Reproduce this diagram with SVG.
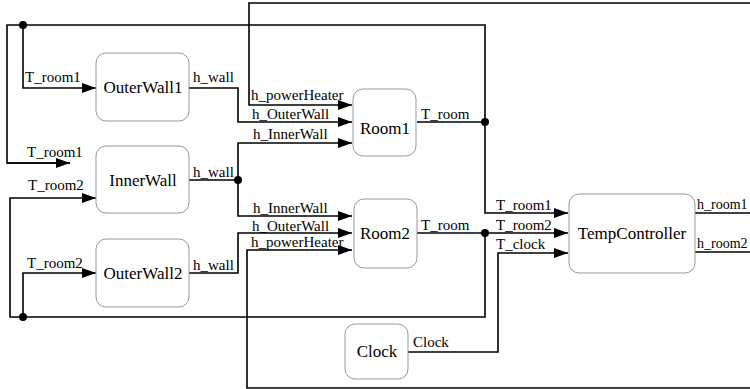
<svg xmlns="http://www.w3.org/2000/svg" width="750" height="389" viewBox="0 0 750 389">
<style>
.box{fill:#fff;stroke:#999;stroke-width:1}
.nl{font-family:"Liberation Serif",serif;font-size:17px;fill:#000;text-anchor:middle}
.pl{font-family:"Liberation Serif",serif;font-size:15px;fill:#000}
.c{fill:none;stroke:#000;stroke-width:1.6}
.a{marker-end:url(#arr)}
.d{fill:#000}
</style>
<defs>
<marker id="arr" markerUnits="userSpaceOnUse" markerWidth="16" markerHeight="12" refX="15" refY="5" orient="auto">
<path d="M1,0 L15,5 L1,10 Z" fill="#000"/>
</marker>
</defs>
<rect width="750" height="389" fill="#fff"/>
<g id="connectors">
<path class="c" d="M485,122 V25 H7 V163 H70"/>
<path class="c a" d="M7,163 H70"/>
<path class="c a" d="M23,25 V88 H96"/>
<path class="c" d="M417,122 H485"/>
<path class="c a" d="M485,122 V213 H568"/>
<path class="c" d="M417,233 H485"/>
<path class="c a" d="M485,233 H568"/>
<path class="c a" d="M485,233 V317 H10 V198 H96"/>
<path class="c a" d="M23,317 V273 H96"/>
<path class="c a" d="M189,88 H238 V122 H352"/>
<path class="c" d="M189,180 H238"/>
<path class="c a" d="M238,180 V143 H352"/>
<path class="c a" d="M238,180 V216 H352"/>
<path class="c a" d="M189,273 H238 V233 H352"/>
<path class="c" d="M695,213 H752"/>
<path class="c a" d="M752,3 H249 V105 H352"/>
<path class="c" d="M695,252 H752"/>
<path class="c a" d="M752,388 H247 V250 H352"/>
<path class="c a" d="M408,352 H498 V253 H568"/>
<circle class="d" cx="23" cy="25" r="4"/>
<circle class="d" cx="485" cy="122" r="4"/>
<circle class="d" cx="238" cy="180" r="4"/>
<circle class="d" cx="485" cy="233" r="4"/>
<circle class="d" cx="23" cy="317" r="4"/>
<text class="pl" x="25" y="82">T_room1</text>
<text class="pl" x="193" y="82">h_wall</text>
<text class="pl" x="251" y="100">h_powerHeater</text>
<text class="pl" x="252" y="119">h_OuterWall</text>
<text class="pl" x="253" y="139">h_InnerWall</text>
<text class="pl" x="421" y="119">T_room</text>
<text class="pl" x="27" y="157">T_room1</text>
<text class="pl" x="28" y="190">T_room2</text>
<text class="pl" x="193" y="177">h_wall</text>
<text class="pl" x="27" y="268">T_room2</text>
<text class="pl" x="193" y="270">h_wall</text>
<text class="pl" x="253" y="213">h_InnerWall</text>
<text class="pl" x="252" y="231">h_OuterWall</text>
<text class="pl" x="251" y="247">h_powerHeater</text>
<text class="pl" x="421" y="230">T_room</text>
<text class="pl" x="496" y="210">T_room1</text>
<text class="pl" x="496" y="230">T_room2</text>
<text class="pl" x="496" y="249">T_clock</text>
<text class="pl" x="697" y="209" style="font-size:14px">h_room1</text>
<text class="pl" x="697" y="248" style="font-size:14px">h_room2</text>
<text class="pl" x="413" y="347">Clock</text>
</g>
<g id="OuterWall1"><rect class="box" x="96" y="53" width="93" height="68" rx="10"/><text class="nl" x="143" y="93">OuterWall1</text></g>
<g id="InnerWall"><rect class="box" x="96" y="146" width="93" height="67" rx="10"/><text class="nl" x="143" y="186">InnerWall</text></g>
<g id="OuterWall2"><rect class="box" x="96" y="239" width="93" height="68" rx="10"/><text class="nl" x="143" y="279">OuterWall2</text></g>
<g id="Room1"><rect class="box" x="353" y="89" width="63" height="67" rx="10"/><text class="nl" x="385" y="134">Room1</text></g>
<g id="Room2"><rect class="box" x="354" y="199" width="63" height="69" rx="10"/><text class="nl" x="385" y="239">Room2</text></g>
<g id="TempController"><rect class="box" x="569" y="194" width="126" height="79" rx="10"/><text class="nl" x="632" y="239">TempController</text></g>
<g id="Clock"><rect class="box" x="345" y="324" width="63" height="55" rx="10"/><text class="nl" x="377" y="357">Clock</text></g>
</svg>
